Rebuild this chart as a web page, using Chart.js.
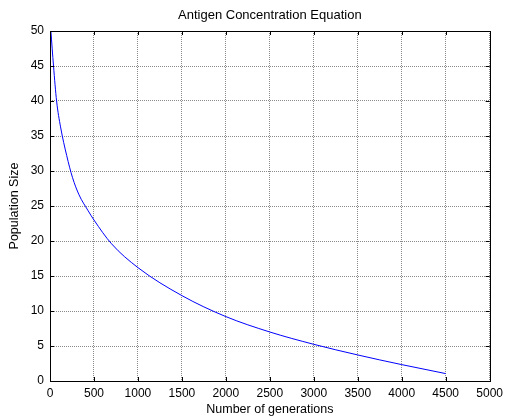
<!DOCTYPE html>
<html>
<head>
<meta charset="utf-8">
<script src="https://cdn.jsdelivr.net/npm/chart.js@4/dist/chart.umd.min.js"></script>
<style>
  html, body { margin: 0; padding: 0; background: #fff; }
  #wrap { width: 508px; height: 420px; }
</style>
</head>
<body>
<div id="wrap"><canvas id="lineChart" width="508" height="420"></canvas></div>
<script>
let generations = [10, 40, 75, 120, 190, 255, 330, 430, 500, 700, 1000, 1500, 2000, 2500, 3000, 3500, 4000, 4500];
let population = [50, 45, 40, 36.3, 32.2, 29.1, 26.6, 24.4, 23.0, 19.6, 16.2, 12.2, 9.2, 7.0, 5.24, 3.72, 2.34, 1.06];
let xTicks = [0, 500, 1000, 1500, 2000, 2500, 3000, 3500, 4000, 4500, 5000];
let yTicks = [0, 5, 10, 15, 20, 25, 30, 35, 40, 45, 50];
let titleText = "Antigen Concentration Equation";
let xLabel = "Number of generations";
let yLabel = "Population Size";

let chart = document.getElementById("lineChart");
let fontName = "'Liberation Sans', Arial, sans-serif";

// matlab style box, inward ticks on all four sides, and the title
let boxPlugin = {
  id: "box",
  afterDraw(c) {
    let ctx = c.ctx;
    let a = c.chartArea;
    let xs = c.scales.x;
    let ys = c.scales.y;
    ctx.save();
    ctx.strokeStyle = "#000";
    ctx.lineWidth = 1;
    ctx.beginPath();
    xTicks.forEach((v) => {
      let px = Math.round(xs.getPixelForValue(v)) + 0.5;
      ctx.moveTo(px, a.bottom);
      ctx.lineTo(px, a.bottom - 4);
      ctx.moveTo(px, a.top);
      ctx.lineTo(px, a.top + 4);
    });
    yTicks.forEach((v) => {
      let py = Math.round(ys.getPixelForValue(v)) + 0.5;
      ctx.moveTo(a.left, py);
      ctx.lineTo(a.left + 4, py);
      ctx.moveTo(a.right, py);
      ctx.lineTo(a.right - 4, py);
    });
    ctx.stroke();
    ctx.strokeRect(Math.round(a.left) + 0.5, Math.round(a.top) + 0.5, Math.round(a.right - a.left), Math.round(a.bottom - a.top));
    ctx.fillStyle = "#000";
    ctx.font = "13px " + fontName;
    ctx.textAlign = "center";
    ctx.textBaseline = "middle";
    ctx.fillText(titleText, (a.left + a.right) / 2, 15);
    ctx.restore();
  },
};

new Chart(chart, {
  type: "line",
  data: {
    datasets: [
      {
        label: "population",
        data: generations.map((g, i) => ({ x: g, y: population[i] })),
        borderColor: "#0000FF",
        borderWidth: 1,
        pointRadius: 0,
        cubicInterpolationMode: "monotone",
        fill: false,
      },
    ],
  },
  options: {
    responsive: false,
    animation: false,
    layout: { padding: { top: 31, right: 14, left: 0, bottom: 0 } },
    plugins: {
      legend: { display: false },
      tooltip: { enabled: false },
      title: { display: false },
    },
    scales: {
      x: {
        type: "linear",
        min: 0,
        max: 5000,
        afterBuildTicks: (s) => { s.ticks = xTicks.map((v) => ({ value: v })); },
        afterFit: (s) => { s.height = 39; },
        ticks: { color: "#000", padding: 5, maxRotation: 0, callback: (v) => String(v), font: { family: fontName, size: 12 } },
        grid: { color: "#8a8a8a", drawTicks: false },
        border: { display: false, dash: [1, 1] },
        title: { display: true, text: xLabel, color: "#000", padding: { top: 0, bottom: 3 }, font: { family: fontName, size: 12.5 } },
      },
      y: {
        type: "linear",
        min: 0,
        max: 50,
        afterBuildTicks: (s) => { s.ticks = yTicks.map((v) => ({ value: v })); },
        afterFit: (s) => { s.width = 50; },
        ticks: { color: "#000", padding: 6, callback: (v) => String(v), font: { family: fontName, size: 12 } },
        grid: { color: "#8a8a8a", drawTicks: false },
        border: { display: false, dash: [1, 1] },
        title: { display: true, text: yLabel, color: "#000", padding: { top: 7, bottom: 0 }, font: { family: fontName, size: 12.5 } },
      },
    },
  },
  plugins: [boxPlugin],
});
</script>
</body>
</html>
